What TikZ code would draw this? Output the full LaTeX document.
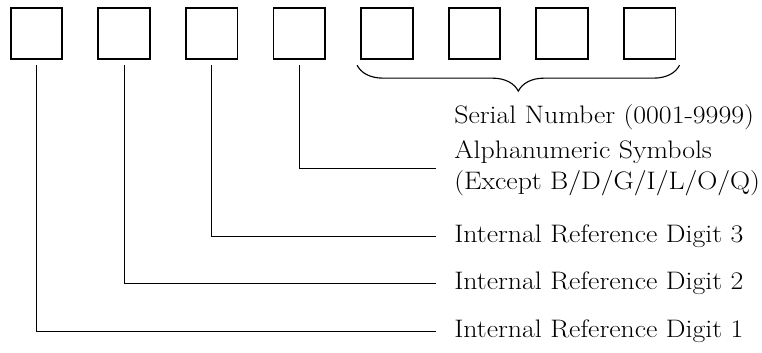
\documentclass[tikz,border=0pt]{standalone}
\usetikzlibrary{decorations.pathreplacing}
\begin{document}
\begin{tikzpicture}[x=1cm,y=1cm,
    digit/.style={draw,line width=1.2pt,minimum size=1.29cm,inner sep=0pt},
    lbl/.style={anchor=west,inner sep=0pt,align=left,xscale=1.1,transform shape,font=\fontsize{18}{22}\selectfont},
    conn/.style={line width=0.6pt,shorten <=0.125cm,shorten >=0.45cm}]
      \useasboundingbox (0,0) rectangle (19.05,8.8);
      \node[digit] (b1) at (0.9125,7.9625) {};
      \node[digit] (b2) at (3.1025,7.9625) {};
      \node[digit] (b3) at (5.2925,7.9625) {};
      \node[digit] (b4) at (7.4825,7.9625) {};
      \node[digit] (b5) at (9.6725,7.9625) {};
      \node[digit] (b6) at (11.8625,7.9625) {};
      \node[digit] (b7) at (14.0525,7.9625) {};
      \node[digit] (b8) at (16.2425,7.9625) {};
      \node[lbl] (serial) at (11.35,5.875) {Serial Number (0001-9999)};
      \node[lbl] (alnum) at (11.35,4.6) {Alphanumeric Symbols\\(Except B/D/G/I/L/O/Q)};
      \node[lbl] (ref3) at (11.35,2.9) {Internal Reference Digit 3};
      \node[lbl] (ref2) at (11.35,1.725) {Internal Reference Digit 2};
      \node[lbl] (ref1) at (11.35,0.525) {Internal Reference Digit 1};
      \draw[conn] (b4.south) |- (alnum.west);
      \draw[conn] (b3.south) |- (ref3.west);
      \draw[conn] (b2.south) |- (ref2.west);
      \draw[conn] (b1.south) |- (ref1.west);
      \draw[line width=0.8pt,decorate,decoration={brace,mirror,amplitude=0.65cm}]
        ([xshift=-0.08cm,yshift=-0.125cm]b5.south west) -- ([xshift=0.08cm,yshift=-0.125cm]b8.south east);
\end{tikzpicture}
\end{document}
